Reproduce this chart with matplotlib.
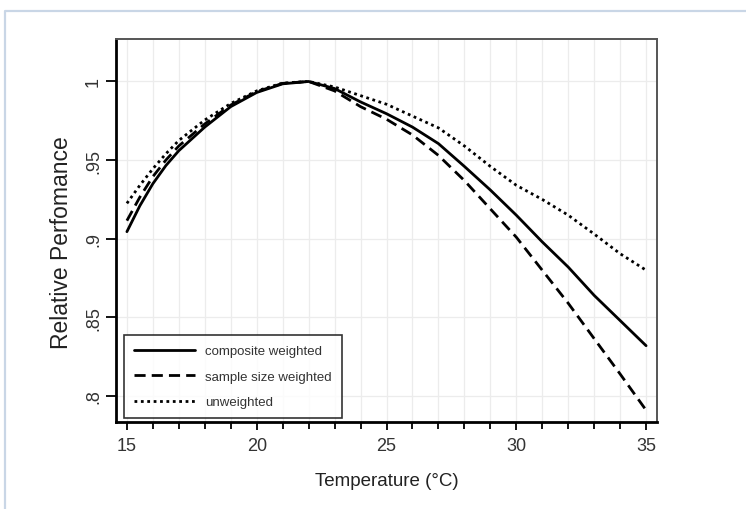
import matplotlib
matplotlib.use("Agg")
import matplotlib.pyplot as plt
from matplotlib.lines import Line2D
from matplotlib.ticker import MultipleLocator, FixedLocator

plt.rcParams['font.family'] = ['Liberation Sans', 'DejaVu Sans']

temperature = [15, 15.5, 16, 16.5, 17, 18, 19, 20, 21, 22, 23, 24, 25, 26, 27, 28, 29, 30, 31, 32, 33, 34, 35]
composite_weighted = [0.9045, 0.921, 0.935, 0.9465, 0.956, 0.971, 0.984, 0.993, 0.9985, 1.0, 0.9955, 0.987, 0.9795,
                      0.971, 0.9605, 0.946, 0.931, 0.915, 0.898, 0.882, 0.864, 0.848, 0.832]
sample_size_weighted = [0.9115, 0.9265, 0.9395, 0.950, 0.959, 0.973, 0.985, 0.9935, 0.9988, 1.0, 0.994, 0.984, 0.976,
                        0.966, 0.953, 0.937, 0.919, 0.901, 0.880, 0.859, 0.8365, 0.814, 0.791]
unweighted = [0.9225, 0.934, 0.9445, 0.954, 0.9625, 0.9755, 0.986, 0.994, 0.999, 1.0, 0.9965, 0.991, 0.9855,
              0.978, 0.9705, 0.959, 0.946, 0.934, 0.925, 0.915, 0.903, 0.8905, 0.880]

series_labels = ["composite weighted", "sample size weighted", "unweighted"]
y_ticks = [0.8, 0.85, 0.9, 0.95, 1.0]
y_tick_labels = [".8", ".85", ".9", ".95", "1"]
x_ticks = [15, 20, 25, 30, 35]

fig = plt.figure(figsize=(7.46, 5.10), dpi=100)
ax = fig.add_axes([116/746, 1 - 423/510, (657-116)/746, (423-40)/510])

ax.plot(temperature, composite_weighted, color='black', lw=2.0, ls='-', label=series_labels[0],
        solid_capstyle='round', solid_joinstyle='round')
ax.plot(temperature, sample_size_weighted, color='black', lw=2.0, dashes=(4, 2.2), label=series_labels[1])
ax.plot(temperature, unweighted, color='black', lw=2.0, dashes=(1.0, 1.3), label=series_labels[2])

ax.set_xlim(14.58, 35.42)
ax.set_ylim(0.7835, 1.027)

ax.xaxis.set_major_locator(FixedLocator(x_ticks))
ax.xaxis.set_minor_locator(MultipleLocator(1))
ax.set_yticks(y_ticks)
ax.set_yticklabels(y_tick_labels, rotation=90, va='center')

ax.grid(True, which='both', axis='x', color='#ececec', lw=0.9)
ax.grid(True, which='major', axis='y', color='#ececec', lw=0.9)
ax.set_axisbelow(True)

ax.tick_params(axis='both', which='both', direction='out', length=5, width=1.3, color='black',
               labelsize=13, labelcolor='#333333')
ax.tick_params(axis='x', which='major', length=6, pad=5)
ax.tick_params(axis='y', which='major', length=7, pad=3)

for side in ['left', 'bottom']:
    ax.spines[side].set_linewidth(2.0)
    ax.spines[side].set_color('black')
for side in ['top', 'right']:
    ax.spines[side].set_linewidth(1.4)
    ax.spines[side].set_color('#555555')

ax.set_xlabel("Temperature (°C)", fontsize=13.5, color='#222222', labelpad=13)
ax.set_ylabel("Relative Perfomance", fontsize=16.5, color='#222222')
ax.yaxis.set_label_coords(-0.0795, 0.47)

leg = ax.legend(loc='lower left', bbox_to_anchor=(0.008, 0.0), frameon=True, fancybox=False,
                edgecolor='black', fontsize=9.5, handlelength=4.6, handletextpad=0.8,
                borderpad=0.75, labelspacing=1.0, borderaxespad=0.3)
leg.get_frame().set_linewidth(1.2)
for t in leg.get_texts():
    t.set_color('#333333')

# outer light border
fig.add_artist(Line2D([5/746, 5/746, 1.0], [0.0, 1 - 12/510, 1 - 12/510],
                      transform=fig.transFigure, color='#c9d6e6', lw=1.6))

fig.savefig("out.png", dpi=100)
